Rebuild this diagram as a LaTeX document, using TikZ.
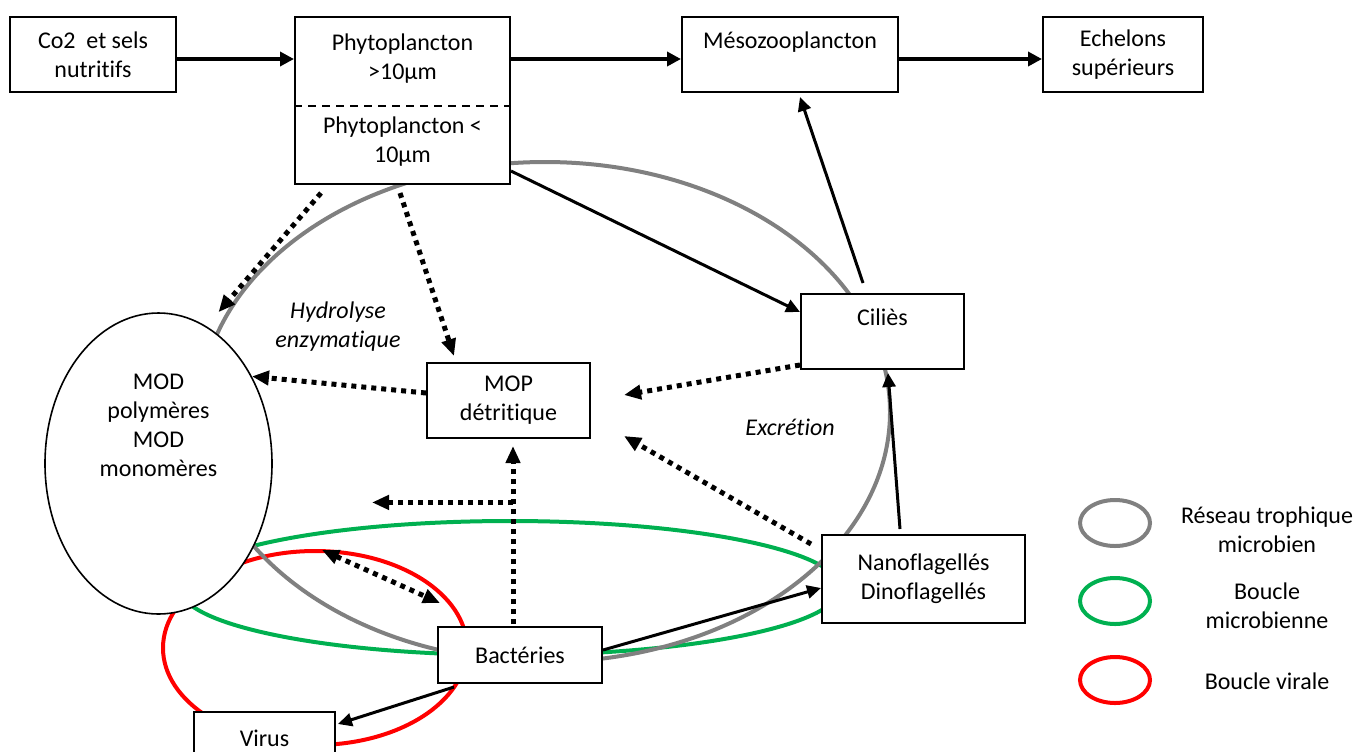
\documentclass[tikz,border=0pt]{standalone}
\usepackage{fontspec}
\setmainfont{Carlito}[Ligatures=NoCommon]
\usetikzlibrary{positioning}
\usetikzlibrary{arrows.meta}
\usetikzlibrary{shapes.geometric}
\pgfdeclarelayer{background}
\pgfsetlayers{background,main}
\definecolor{loopgray}{RGB}{128,128,128}
\definecolor{loopgreen}{RGB}{0,176,80}
\definecolor{loopred}{RGB}{255,0,0}

\begin{document}
\begin{tikzpicture}[x=0.5pt, y=-0.5pt,
	every node/.style={font=\fontsize{12}{14.5}\selectfont},
	boxnode/.style={rectangle, draw=black, line width=1pt, fill=white, align=center, inner sep=0pt},
	ovalnode/.style={ellipse, draw=black, line width=0.8pt, fill=white, inner sep=0pt},
	ringnode/.style={ellipse, line width=2pt, inner sep=0pt, minimum width=35pt, minimum height=23pt},
	textnode/.style={align=center},
	ringline/.style={line width=2pt},
	mainarrow/.style={line width=2pt, -{Triangle[length=7pt,width=7pt]}},
	thinarrow/.style={line width=1.5pt, -{Triangle[length=7pt,width=6.5pt]}},
	dotarrow/.style={line width=2.5pt, dash pattern=on 2.5pt off 2.5pt, -{Triangle[length=8.5pt,width=7pt]}},
	dotboth/.style={line width=2.5pt, dash pattern=on 2.5pt off 2.5pt, {Triangle[length=8.5pt,width=7pt]}-{Triangle[length=8.5pt,width=7pt]}},
	]
	\useasboundingbox (0,0) rectangle (1359,751);
	%Nodes
	\node[boxnode, minimum width=83pt, minimum height=37.5pt]     (co2)      at (93,54.5)    {Co2~ et sels\\nutritifs};
	\node[boxnode, minimum width=107.5pt, minimum height=83.5pt]  (phyto)    at (402.5,100.5) {};
	\node[textnode]                                               (phytobig) at (402.5,58.5)  {Phytoplancton\\>10µm};
	\node[textnode]                                               (phytosmall) at (402.5,141.5) {Phytoplancton <\\10µm};
	\node[boxnode, minimum width=108pt, minimum height=37.5pt]    (meso)     at (790,54.5)   {Mésozooplancton\\ \mbox{}};
	\node[boxnode, minimum width=80pt, minimum height=37.5pt]     (echelons) at (1123,54.5)  {Echelons\\supérieurs};
	\node[boxnode, minimum width=81.5pt, minimum height=37.5pt]   (cilies)   at (882.5,331.5) {Ciliès\\ \mbox{}};
	\node[boxnode, minimum width=81.5pt, minimum height=37.5pt]   (mop)      at (508.5,400.5) {MOP\\détritique};
	\node[boxnode, minimum width=101.5pt, minimum height=44pt]    (nano)     at (923.5,579)  {Nanoflagellés\\Dinoflagellés};
	\node[boxnode, minimum width=82pt, minimum height=28pt]       (bact)     at (520,655)    {Bactéries};
	\node[boxnode, minimum width=70.5pt, minimum height=26pt]     (virus)    at (264.5,738)  {Virus};
	\node[ovalnode, minimum width=113.5pt, minimum height=150.5pt] (mod)     at (158.5,463.5) {};
	\node[textnode]                                               (modtext)  at (158.5,425.5) {MOD\\polymères\\MOD\\monomères};
	\node[textnode, font=\fontsize{12}{14.5}\selectfont\itshape]  (hydrolyse) at (338,326.5)  {Hydrolyse\\enzymatique};
	\node[textnode, font=\fontsize{12}{14.5}\selectfont\itshape]  (excretion) at (790,427)    {Excrétion};
	\coordinate (redtop) at (322,550);
	\coordinate (redmid) at (440,603);

	%Legend
	\node[ringnode, draw=loopgray]  (leggray)  at (1115,523) {};
	\node[ringnode, draw=loopgreen] (leggreen) at (1115,601) {};
	\node[ringnode, draw=loopred]   (legred)   at (1115,680) {};
	\node[textnode] (legtrophic) at (1267,530) {Réseau trophique\\microbien};
	\node[textnode] (legmicro)   at (1267,606) {Boucle\\microbienne};
	\node[textnode] (legviral)   at (1267,681) {Boucle virale};

	\draw[line width=1pt, dash pattern=on 4pt off 3pt] ([yshift=-45pt]phyto.north west) -- ([yshift=-45pt]phyto.north east);

	\begin{pgfonlayer}{background}
	%Loops
	\draw[ringline, loopred]   (315,648) ellipse [x radius=152, y radius=97];
	\draw[ringline, loopgreen] (510,588) ellipse [x radius=330, y radius=67];
	\draw[ringline, loopgray]  (545,412) ellipse [x radius=345, y radius=250];
	\end{pgfonlayer}

	%Arrows
	\draw[mainarrow] ([yshift=-21.5pt]co2.north east) -- ([yshift=-21.5pt]phyto.north west);
	\draw[mainarrow] ([yshift=-21.5pt]phyto.north east) -- ([yshift=-21.5pt]meso.north west);
	\draw[mainarrow] ([yshift=-21.5pt]meso.north east) -- ([yshift=-21.5pt]echelons.north west);
	\draw[thinarrow] ([yshift=7pt]phyto.south east) -- ([yshift=9.75pt]cilies.west);
	\draw[thinarrow] ([xshift=-9.75pt,yshift=5pt]cilies.north) -- ([xshift=5pt,yshift=-2pt]meso.south);
	\draw[thinarrow] ([xshift=-11.75pt,yshift=2.5pt]nano.north) -- ([xshift=2.75pt,yshift=-1.5pt]cilies.south);
	\draw[thinarrow] ([yshift=2.5pt]bact.east) -- ([yshift=-4.5pt]nano.west);
	\draw[thinarrow] ([xshift=8.5pt,yshift=-1.5pt]bact.south west) -- ([xshift=1pt,yshift=7pt]virus.east);

	\draw[dotarrow] ([xshift=13.5pt,yshift=-4pt]phyto.south west) -- ([xshift=30pt]mod.north);
	\draw[dotarrow] ([xshift=-1.25pt,yshift=-4pt]phyto.south) -- ([xshift=14pt,yshift=3pt]mop.north west);
	\draw[dotarrow] ([yshift=3.75pt]mop.west) -- (mod.43);
	\draw[dotarrow] ([yshift=2.5pt]cilies.south west) -- ([xshift=16.5pt,yshift=2.75pt]mop.east);
	\draw[dotarrow] ([xshift=-5pt,yshift=-5pt]nano.north west) -- ([xshift=16.5pt,yshift=1.5pt]mop.south east);
	\draw[dotarrow] ([xshift=-3.5pt,yshift=1pt]bact.north) -- coordinate[pos=0.683] (split) ([xshift=2.25pt,yshift=-3.5pt]mop.south);
	\draw[dotarrow] (split) -- ([xshift=-70.5pt]split);
	\draw[dotboth] (redtop) -- (redmid);
\end{tikzpicture}
\end{document}
